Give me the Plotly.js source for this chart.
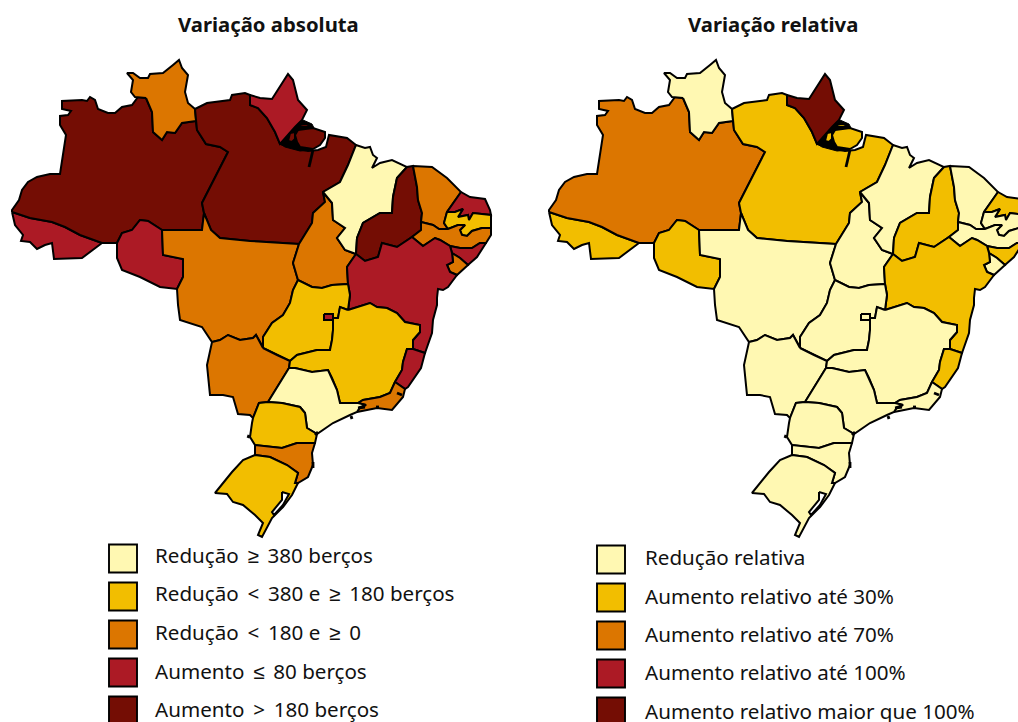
<!DOCTYPE html>
<html>
<head>
<meta charset="utf-8">
<script src="https://cdn.plot.ly/plotly-3.0.1.min.js"></script>
<style>html,body{margin:0;padding:0;background:#fff;overflow:hidden}</style>
</head>
<body>
<div id="chart" style="width:1018px;height:722px"></div>
<script>
// Class of each state (index in palette) in each panel
const stateCodes = ["AC","AM","RR","RO","PA","AP","MT","TO","MA","PI","CE","RN","PB","PE","AL","SE","BA","GO","DF","MS","MG","ES","RJ","SP","PR","SC","RS"];
const absClass   = [3,4,2,3,4,3,2,2,0,4,2,3,1,2,3,2,3,1,3,2,1,3,2,0,1,2,1];
const relClass   = [1,2,0,1,1,4,0,0,0,1,0,1,0,0,1,0,1,0,0,0,0,1,0,0,0,0,0];
const palette    = ["#FFF8B2","#F2BE00","#DC7600","#AC1A25","#740D04"];
const titles     = ["Variação absoluta","Variação relativa"];
const T = "\u2009";
const absLabels  = ["Redução "+T+"≥"+T+" 380 berços","Redução "+T+"<"+T+" 380 e "+T+"≥"+T+" 180 berços","Redução "+T+"<"+T+" 180 e "+T+"≥"+T+" 0","Aumento "+T+"≤"+T+" 80 berços","Aumento "+T+">"+T+" 180 berços"];
const relLabels  = ["Redução relativa","Aumento relativo até 30%","Aumento relativo até 70%","Aumento relativo até 100%","Aumento relativo maior que 100%"];

// Shared state borders (map units)
const A = {
 ac_am:[[12,212],[30,218],[52,222],[65,227],[80,235],[102,243]],
 am_north:[[12,212],[12,210],[19,200],[22,190],[28,182],[37,177],[50,174],[60,174],[66,135],[60,125],[60,116],[68,115],[71,111],[62,109],[62,101],[82,100],[87,101],[90,97],[95,100],[98,109],[108,113],[115,113],[122,107],[132,105],[138,97],[146,98]],
 am_rr:[[146,98],[152,112],[153,132],[162,140],[167,132],[175,133],[182,123],[196,121]],
 rr_out:[[146,98],[135,97],[131,92],[133,80],[127,73],[133,73],[140,78],[148,78],[150,74],[163,73],[173,65],[179,60],[182,68],[188,75],[187,82],[185,92],[188,103],[195,109]],
 rr_pa:[[195,109],[196,121]],
 am_pa:[[196,121],[197,130],[206,144],[220,147],[228,152],[202,203],[204,213]],
 am_mt:[[204,213],[202,230],[162,230]],
 am_ro:[[162,230],[148,221],[140,220],[132,230],[122,233],[117,243]],
 am_ext:[[117,243],[102,243]],
 ac_out:[[12,212],[15,225],[23,235],[21,241],[30,242],[37,249],[45,245],[52,243],[54,259],[82,258],[102,243]],
 ro_out:[[117,243],[117,258],[122,270],[140,277],[160,287],[177,289]],
 ro_mt:[[177,289],[183,277],[183,259],[163,255],[162,230]],
 mt_west:[[177,289],[178,305],[180,320],[202,327],[212,342]],
 mt_ms:[[212,342],[220,340],[228,335],[240,340],[253,338],[256,335],[260,342],[263,348]],
 mt_go:[[263,348],[263,337],[272,323],[283,315],[290,303],[293,290],[298,280]],
 mt_to:[[298,280],[293,263],[299,244]],
 pa_mt:[[204,213],[211,230],[220,238],[250,241],[299,244]],
 pa_to:[[299,244],[312,223],[313,213],[325,202],[323,192]],
 pa_ma:[[323,192],[340,182],[348,165],[356,145]],
 pa_north:[[195,109],[207,103],[230,100],[232,95],[245,93],[250,95]],
 ap_pa:[[250,95],[250,105],[258,108],[267,118],[275,132],[280,144]],
 ap_out:[[250,95],[260,98],[272,99],[288,74],[293,80],[298,100],[307,110],[302,120],[295,127],[280,144]],
 pa_coast:[[280,144],[293,147],[298,149],[308,151],[318,150],[326,147],[329,135],[347,138],[356,145]],
 ma_coast:[[356,145],[365,148],[370,147],[373,155],[377,158],[372,168],[380,163],[392,160],[407,167]],
 ma_pi:[[407,167],[397,178],[393,197],[392,213],[380,213],[363,223],[357,238],[356,254]],
 ma_to:[[356,254],[345,250],[337,238],[345,228],[333,220],[332,203],[323,192]],
 to_go:[[298,280],[312,287],[322,288],[332,285],[348,284]],
 to_ba:[[348,284],[347,267],[356,254]],
 ba_pi:[[356,254],[365,261],[378,257],[382,243],[397,247],[412,237]],
 pi_coast:[[407,167],[413,166]],
 pi_ce:[[413,166],[417,187],[418,200],[422,213],[421,222]],
 pi_pe:[[412,237],[421,230],[421,222]],
 ce_coast:[[413,166],[432,167],[447,178],[461,192]],
 ce_rn:[[461,192],[447,212]],
 ce_pb:[[447,212],[444,223],[448,229]],
 ce_pe:[[421,222],[433,225],[439,229],[448,229]],
 rn_coast:[[461,192],[470,197],[485,199],[490,210],[491,215]],
 rn_pb:[[447,212],[455,212],[463,209],[458,217],[468,215],[469,220],[473,213],[491,215]],
 pb_coast:[[491,215],[491,228]],
 pb_pe:[[448,229],[458,225],[465,225],[460,230],[462,235],[467,236],[472,231],[482,228],[491,228]],
 pe_coast:[[491,228],[491,235],[486,243]],
 pe_al:[[486,243],[480,243],[472,248],[460,248],[450,246]],
 pe_ba:[[450,246],[440,240],[435,238],[423,246],[412,237]],
 al_coast:[[486,243],[477,257],[468,265]],
 al_se:[[468,265],[460,258],[452,253]],
 al_ba:[[450,246],[452,253]],
 se_coast:[[468,265],[457,275]],
 se_ba:[[452,253],[453,262],[447,265],[450,272],[457,275]],
 ba_coast:[[457,275],[448,287],[443,290],[438,289],[437,298],[437,305],[433,320],[432,333],[425,353]],
 ba_es:[[425,353],[413,349]],
 ba_mg:[[413,349],[413,340],[420,332],[420,325],[405,322],[397,313],[387,308],[377,307],[370,303],[348,310]],
 ba_go:[[348,284],[350,295],[348,310]],
 go_mg:[[348,310],[340,307],[338,318],[333,318],[333,330],[332,340],[330,350],[317,350],[297,355],[290,361]],
 go_ms:[[263,348],[277,355],[290,361]],
 ms_mg:[[290,361],[289,368]],
 mg_sp:[[289,368],[295,368],[312,372],[328,370],[332,378],[337,390],[340,403],[358,403]],
 mg_rj:[[358,403],[363,400],[380,397],[390,393],[395,382]],
 mg_es:[[395,382],[402,370],[403,362],[407,349],[413,349]],
 es_coast:[[425,353],[421,368],[408,387],[405,389]],
 es_rj:[[395,382],[405,389]],
 rj_coast:[[405,389],[403,397],[392,410],[377,408],[363,411],[357,412]],
 rj_sp:[[358,403],[366,405],[360,407],[357,412]],
 sp_coast:[[357,412],[350,415],[333,423],[317,434]],
 ms_sp:[[289,368],[268,402]],
 ms_out:[[212,342],[207,365],[210,395],[223,395],[233,397],[238,414],[250,415],[253,418]],
 ms_pr:[[253,418],[259,403],[268,402]],
 sp_pr:[[268,402],[282,403],[300,407],[305,413],[307,428],[317,434]],
 pr_coast:[[317,434],[315,443]],
 pr_west:[[253,418],[252,423],[250,437],[255,445]],
 pr_sc:[[255,445],[282,448],[297,443],[315,443]],
 sc_coast:[[315,443],[312,453],[313,465],[308,477],[298,483]],
 sc_west:[[255,445],[255,455]],
 sc_rs:[[255,455],[270,457],[287,465],[298,473],[295,483],[298,483]],
 rs_out:[[255,455],[243,460],[232,472],[215,493],[227,494],[233,502],[243,505],[255,515],[263,523],[258,535],[262,537],[272,518],[283,507],[292,495],[298,483]]
};
// Ring of each state as a list of borders; "-" = walked backwards
const rings = {
 AC:["ac_out","-ac_am"],
 AM:["ac_am","-am_ext","-am_ro","-am_mt","-am_pa","-am_rr","-am_north"],
 RR:["am_rr","-rr_pa","-rr_out"],
 RO:["am_ro","ro_out","ro_mt"],
 PA:["rr_pa","am_pa","pa_mt","pa_to","pa_ma","-pa_coast","-ap_pa","-pa_north"],
 AP:["ap_out","-ap_pa"],
 MT:["-pa_mt","am_mt","-ro_mt","mt_west","mt_ms","mt_go","mt_to"],
 TO:["-mt_to","to_go","to_ba","ma_to","-pa_to"],
 MA:["pa_ma","ma_coast","ma_pi","ma_to"],
 PI:["-ma_pi","pi_coast","pi_ce","-pi_pe","-ba_pi"],
 CE:["ce_coast","ce_rn","ce_pb","-ce_pe","-pi_ce"],
 RN:["rn_coast","-rn_pb","-ce_rn"],
 PB:["rn_pb","pb_coast","-pb_pe","-ce_pb"],
 PE:["ce_pe","pb_pe","pe_coast","pe_al","pe_ba","pi_pe"],
 AL:["-pe_al","al_coast","al_se","-al_ba"],
 SE:["-al_se","se_coast","-se_ba"],
 BA:["ba_pi","-pe_ba","al_ba","se_ba","ba_coast","ba_es","ba_mg","-ba_go","to_ba"],
 GO:["-to_go","-mt_go","go_ms","-go_mg","-ba_go"],
 MS:["-mt_ms","ms_out","ms_pr","-ms_sp","-ms_mg","-go_ms"],
 MG:["go_mg","ms_mg","mg_sp","mg_rj","mg_es","ba_mg"],
 ES:["-ba_es","es_coast","-es_rj","mg_es"],
 RJ:["es_rj","rj_coast","-rj_sp","mg_rj"],
 SP:["ms_sp","sp_pr","-sp_coast","-rj_sp","-mg_sp"],
 PR:["-ms_pr","pr_west","pr_sc","-pr_coast","-sp_pr"],
 SC:["-pr_sc","sc_west","sc_rs","-sc_coast"],
 RS:["rs_out","-sc_rs"]
};
const dfRing = [[324,314],[333,314],[333,320],[324,320],[324,314]];
const amazonChannel = [[280,144],[295,127],[303,120],[312,124],[314,128],[298,131],[295,135],[297,143],[313,150],[300,151],[285,147],[280,144]];
const paIslands = [
 [[298,130],[313,128],[325,132],[325,138],[320,145],[313,149],[300,147],[297,142],[295,135],[298,130]],
 [[290,133],[295,132],[295,139],[292,142],[288,141],[290,133]],
 [[299,125],[305,124],[310,125],[307,127],[301,127],[299,125]]
];
const blackMarks = [
 [[313,150],[311,160],[309,167]],
 [[358,408],[365,407]],
 [[376,407],[379,407]],
 [[397,393],[402,395]],
 [[351,416],[352,419]],
 [[315,435],[318,432]],
 [[248,438],[249,435]],
 [[313,462],[313,468]]
];
const lagoon = [[282,492],[289,494],[283,505],[274,515],[272,512],[282,500],[282,492]];
const legendRowsY = [[558.5,596.5,634.5,672.5,710.5],[559.5,597.5,635.5,673.5,711.5]];
const legendTextY = [[557.5,596,634.5,673.5,712],[559.5,598.5,636.5,674.5,713.5]];
const legendSwatchX = [123,611];
const legendTextX = [155,645];
const panelShift = [0,537];

function ringPts(list){
  const pts=[];
  list.forEach(n=>{
    const rev=n[0]==="-";
    const arc=A[rev?n.slice(1):n];
    (rev?[...arc].reverse():arc).forEach(p=>pts.push(p));
  });
  pts.push(pts[0]);
  return pts;
}
function poly(pts,fill,ax,ay,w){
  return {x:pts.map(p=>p[0]),y:pts.map(p=>p[1]),xaxis:ax,yaxis:ay,mode:"lines",
    fill:"toself",fillcolor:fill,line:{color:"#000",width:w||2},hoverinfo:"skip",showlegend:false};
}
const traces=[];
[absClass,relClass].forEach((cls,k)=>{
  const ax=k?"x2":"x", ay=k?"y2":"y";
  const shift=panelShift[k];
  stateCodes.forEach((c,i)=>{
    if(c==="DF") return;
    traces.push(poly(ringPts(rings[c]),palette[cls[i]],ax,ay));
  });
  traces.push(poly(amazonChannel,"#000",ax,ay,1));
  const paColor=palette[cls[stateCodes.indexOf("PA")]];
  paIslands.forEach(r=>traces.push(poly(r,paColor,ax,ay)));
  blackMarks.forEach(m=>traces.push({x:m.map(p=>p[0]),y:m.map(p=>p[1]),xaxis:ax,yaxis:ay,mode:"lines",
    line:{color:"#000",width:2.8},hoverinfo:"skip",showlegend:false}));
  traces.push(poly(lagoon,"#fff",ax,ay));
  traces.push(poly(dfRing,palette[cls[stateCodes.indexOf("DF")]],ax,ay));
  // legend swatches and labels
  const labels=k?relLabels:absLabels;
  const ys=legendRowsY[k];
  traces.push({x:ys.map(()=>legendSwatchX[k]-shift),y:ys,xaxis:ax,yaxis:ay,mode:"markers",
    marker:{symbol:"square",size:28,color:palette,line:{color:"#000",width:1.9}},hoverinfo:"skip",showlegend:false});
  traces.push({x:ys.map(()=>legendTextX[k]-shift),y:legendTextY[k],xaxis:ax,yaxis:ay,mode:"text",text:labels,
    textposition:"middle right",textfont:{family:"'Noto Sans',sans-serif",size:20.6,color:"#111"},hoverinfo:"skip",showlegend:false});
});
const noAxis={visible:false,showgrid:false,zeroline:false,fixedrange:true};
const layout={
  width:1018,height:722,margin:{l:0,r:0,t:0,b:0},
  paper_bgcolor:"#fff",plot_bgcolor:"#fff",showlegend:false,
  xaxis:{...noAxis,domain:[0,0.5],range:[0,509]},
  yaxis:{...noAxis,domain:[0,1],range:[722,0]},
  xaxis2:{...noAxis,domain:[0.5,1],range:[-28,481]},
  yaxis2:{...noAxis,domain:[0,1],range:[722,0]},
  annotations:[
    {xref:"x",yref:"y",x:268,y:24,text:titles[0],showarrow:false,font:{family:"'Noto Sans',sans-serif",size:20.3,color:"#111",weight:700}},
    {xref:"x2",yref:"y2",x:773-537,y:24,text:titles[1],showarrow:false,font:{family:"'Noto Sans',sans-serif",size:20.3,color:"#111",weight:700}}
  ]
};
Plotly.newPlot("chart",traces,layout,{displayModeBar:false,staticPlot:true});
</script>
</body>
</html>
